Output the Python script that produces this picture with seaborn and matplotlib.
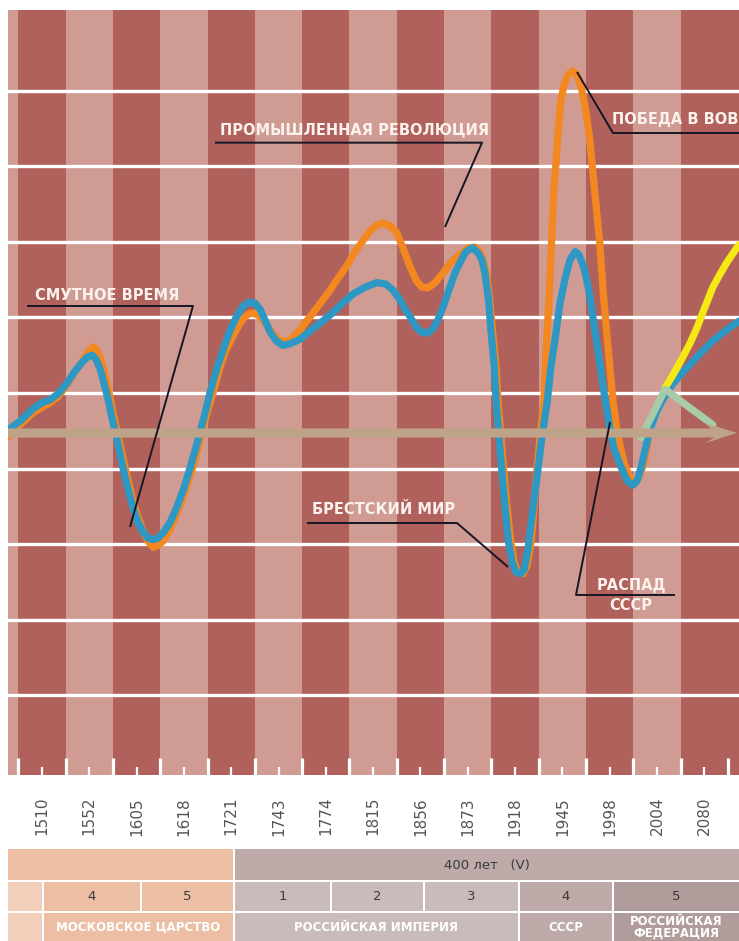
import numpy as np
import pandas as pd
import matplotlib
matplotlib.use("Agg")
import matplotlib.pyplot as plt
import seaborn as sns
from matplotlib.patches import Rectangle, FancyArrow

# ---------------- data ----------------
years = ["1510", "1552", "1605", "1618", "1721", "1743", "1774", "1815",
         "1856", "1873", "1918", "1945", "1998", "2004", "2080"]

blue_x = [-0.72, -0.46, -0.19, 0.00, 0.17, 0.34, 0.53, 0.70, 0.87, 0.97,
          1.06, 1.14, 1.23, 1.31, 1.40, 1.48, 1.59, 1.69, 1.80, 1.92,
          2.03, 2.14, 2.24, 2.35, 2.45, 2.56, 2.71, 2.85, 3.00, 3.13,
          3.26, 3.34, 3.45, 3.55, 3.70, 3.85, 3.97, 4.12, 4.25, 4.38,
          4.50, 4.61, 4.71, 4.82, 4.95, 5.09, 5.24, 5.45, 5.77, 6.09,
          6.34, 6.58, 6.83, 7.08, 7.27, 7.42, 7.57, 7.67, 7.78, 7.91,
          8.01, 8.14, 8.27, 8.37, 8.48, 8.60, 8.73, 8.84, 8.96, 9.11,
          9.22, 9.30, 9.37, 9.44, 9.49, 9.56, 9.60, 9.66, 9.72, 9.79,
          9.86, 9.94, 10.02, 10.11, 10.19, 10.27, 10.38, 10.48, 10.57, 10.68,
          10.76, 10.87, 10.95, 11.06, 11.16, 11.27, 11.35, 11.46, 11.56, 11.67,
          11.77, 11.88, 11.99, 12.09, 12.24, 12.37, 12.49, 12.58, 12.66, 12.75,
          12.85, 12.98, 13.13, 13.32, 13.51, 13.70, 13.91, 14.18, 14.46, 14.73]
blue_y = [-0.49, -0.37, -0.21, -0.13, -0.09, -0.01, 0.13, 0.29, 0.42, 0.48,
          0.50, 0.45, 0.32, 0.13, -0.09, -0.33, -0.62, -0.93, -1.22, -1.51,
          -1.71, -1.84, -1.92, -1.94, -1.92, -1.85, -1.71, -1.51, -1.26, -0.99,
          -0.71, -0.52, -0.26, 0.00, 0.33, 0.61, 0.82, 1.02, 1.15, 1.20,
          1.19, 1.11, 0.97, 0.81, 0.69, 0.63, 0.65, 0.71, 0.87, 1.03,
          1.18, 1.31, 1.40, 1.46, 1.44, 1.36, 1.23, 1.11, 1.01, 0.87,
          0.81, 0.79, 0.85, 0.97, 1.14, 1.36, 1.59, 1.73, 1.87, 1.92,
          1.85, 1.76, 1.56, 1.23, 0.82, 0.36, -0.11, -0.57, -1.03, -1.51,
          -1.97, -2.24, -2.37, -2.39, -2.34, -2.08, -1.51, -1.03, -0.57, -0.11,
          0.36, 0.82, 1.19, 1.52, 1.76, 1.87, 1.83, 1.65, 1.36, 0.90,
          0.48, 0.01, -0.42, -0.73, -0.98, -1.16, -1.22, -1.16, -0.99, -0.75,
          -0.49, -0.26, -0.08, 0.11, 0.25, 0.38, 0.52, 0.69, 0.83, 0.95]

orange_x = [-0.72, -0.46, -0.19, 0.00, 0.17, 0.34, 0.53, 0.70, 0.87, 0.97,
            1.08, 1.16, 1.25, 1.33, 1.42, 1.50, 1.61, 1.71, 1.82, 1.92,
            2.03, 2.14, 2.24, 2.35, 2.45, 2.56, 2.71, 2.85, 3.00, 3.17,
            3.28, 3.38, 3.49, 3.62, 3.76, 3.89, 4.04, 4.19, 4.33, 4.44,
            4.57, 4.67, 4.78, 4.88, 5.01, 5.14, 5.29, 5.45, 5.58, 5.73,
            5.90, 6.09, 6.26, 6.45, 6.62, 6.79, 6.93, 7.08, 7.21, 7.36,
            7.50, 7.63, 7.78, 7.91, 8.03, 8.16, 8.31, 8.48, 8.65, 8.84,
            9.01, 9.15, 9.26, 9.34, 9.41, 9.47, 9.53, 9.60, 9.64, 9.70,
            9.76, 9.83, 9.91, 9.98, 10.06, 10.17, 10.25, 10.34, 10.40, 10.46,
            10.53, 10.61, 10.66, 10.72, 10.77, 10.82, 10.87, 10.91, 10.96, 11.03,
            11.12, 11.22, 11.31, 11.41, 11.50, 11.58, 11.68, 11.79, 11.87, 11.98,
            12.07, 12.17, 12.31, 12.44, 12.54, 12.64, 12.73, 12.81]
orange_y = [-0.58, -0.42, -0.26, -0.19, -0.13, -0.05, 0.11, 0.28, 0.44, 0.54,
            0.61, 0.57, 0.44, 0.24, 0.00, -0.26, -0.56, -0.86, -1.15, -1.42,
            -1.64, -1.83, -1.96, -2.04, -2.02, -1.96, -1.81, -1.60, -1.35, -1.02,
            -0.78, -0.53, -0.26, 0.01, 0.33, 0.57, 0.75, 0.93, 1.03, 1.06,
            1.03, 0.97, 0.87, 0.79, 0.70, 0.66, 0.73, 0.83, 0.94, 1.06,
            1.20, 1.36, 1.52, 1.69, 1.87, 2.02, 2.14, 2.22, 2.25, 2.21,
            2.12, 1.92, 1.67, 1.49, 1.40, 1.39, 1.46, 1.59, 1.73, 1.84,
            1.92, 1.93, 1.87, 1.73, 1.52, 1.19, 0.79, 0.33, -0.11, -0.57,
            -1.03, -1.51, -1.97, -2.24, -2.37, -2.39, -2.29, -1.97, -1.51, -1.03,
            -0.57, -0.11, 0.60, 1.28, 1.98, 2.69, 3.08, 3.45, 3.84, 4.06,
            4.21, 4.26, 4.21, 4.01, 3.72, 3.35, 2.69, 1.98, 1.28, 0.50,
            -0.11, -0.57, -0.94, -1.14, -1.19, -1.08, -0.91, -0.65]

yellow_x = [13.17, 13.32, 13.49, 13.70, 13.85, 13.97, 14.08, 14.18, 14.33, 14.48, 14.61, 14.73]
yellow_y = [0.07, 0.22, 0.41, 0.66, 0.87, 1.07, 1.24, 1.40, 1.57, 1.73, 1.85, 1.96]

green_x = [12.66, 12.91, 13.17, 13.68, 14.18]
green_y = [-0.59, -0.28, 0.05, -0.19, -0.42]

events = ["ПРОМЫШЛЕННАЯ РЕВОЛЮЦИЯ", "ПОБЕДА В ВОВ", "СМУТНОЕ ВРЕМЯ",
          "БРЕСТСКИЙ МИР", "РАСПАД\nСССР"]

row1_labels = ["", "400 лет   (V)"]
row2_labels = ["", "4", "5", "1", "2", "3", "4", "5"]
row3_labels = ["", "МОСКОВСКОЕ ЦАРСТВО", "РОССИЙСКАЯ ИМПЕРИЯ", "СССР",
               "РОССИЙСКАЯ\nФЕДЕРАЦИЯ"]

# ---------------- style ----------------
sns.set_theme(style="white")
plt.rcParams["font.family"] = ["DejaVu Sans"]

DARK = "#b1615c"
LIGHT = "#d09b93"
BLUE = "#2d98c4"
ORANGE = "#f2881f"
YELLOW = "#f6e815"
GREEN = "#a8cba7"
ARROW = "#bfa388"
TXT = "#fbf2ee"
LINE = "#161625"

W, H = 739, 941
fig = plt.figure(figsize=(W / 100, H / 100), dpi=100)
fig.patch.set_facecolor("white")

ax = fig.add_axes([8.3 / W, 166 / H, (W - 8.3) / W, 765 / H])
ax.set_xlim(-0.711, 14.733)
ax.set_ylim(-5.053, 5.066)
for s in ax.spines.values():
    s.set_visible(False)

# stripes
n = len(years)
for i in range(-1, n):
    right = i + 0.5 if i < n - 1 else i + 1.5
    ax.axvspan(i - 0.5, right, color=DARK if i % 2 == 0 else LIGHT, lw=0, zorder=0)

# white horizontal lines
for k in range(-4, 5):
    ax.axhline(k, color="white", lw=2.4, zorder=1)

# curves
common = dict(ax=ax, estimator=None, sort=False, lw=5.2,
              solid_capstyle="round", solid_joinstyle="round")
sns.lineplot(x=orange_x, y=orange_y, color=ORANGE, zorder=2, **common)
sns.lineplot(x=blue_x, y=blue_y, color=BLUE, zorder=3, **common)
sns.lineplot(x=yellow_x, y=yellow_y, color=YELLOW, zorder=3, **common)
sns.lineplot(x=green_x, y=green_y, color=GREEN, zorder=4, **common)

# arrow
y0 = -0.529
ax.add_patch(FancyArrow(-0.75, y0, 14.69 + 0.75, 0, width=0.12, head_width=0.27,
                        head_length=0.68, length_includes_head=True, overhang=0.3,
                        color=ARROW, lw=0, zorder=5))

# ticks (ruler)
ax.set_xticks(range(n))
ax.set_xticklabels(years, rotation=90, fontsize=11, color="#555555")
ax.set_xticks(np.arange(-0.5, n, 1.0), minor=True)
ax.tick_params(axis="x", which="major", direction="in", length=5.8, width=1.6,
               color="white", pad=15.8, bottom=True)
ax.tick_params(axis="x", which="minor", direction="in", length=12.2, width=2.3,
               color="white", bottom=True)
ax.set_yticks([])
ax.set_xlabel("")
ax.set_ylabel("")

# annotations
ann_kw = dict(color=LINE, lw=1.4, zorder=6, solid_capstyle="butt")
txt_kw = dict(color=TXT, fontsize=10.5, fontweight="bold", zorder=7,
              ha="center", va="center")

ax.plot([3.657, 9.301, 8.519], [3.311, 3.311, 2.196], **ann_kw)
ax.text(6.606, 3.479, events[0], **txt_kw)

ax.plot([11.309, 12.07, 14.8], [4.246, 3.439, 3.439], **ann_kw)
ax.text(13.391, 3.624, events[1], **txt_kw)

ax.plot([-0.316, 3.192, 1.861], [1.151, 1.151, -1.772], **ann_kw)
ax.text(1.385, 1.296, events[2], **txt_kw)

ax.plot([5.602, 8.773, 9.851], [-1.720, -1.720, -2.302], **ann_kw)
ax.text(7.23, -1.541, events[3], **txt_kw)

ax.plot([12.007, 11.288, 13.38], [-0.384, -2.672, -2.672], **ann_kw)
ax.text(12.45, -2.68, events[4], linespacing=1.45, **txt_kw)

# ---------------- bottom table ----------------
tab = fig.add_axes([0, 0, 1, 92 / H])
tab.set_xlim(0, W)
tab.set_ylim(941, 849)
tab.axis("off")

PEACH = "#ecbfa5"
LPEACH = "#f2cfba"
LGRAY = "#c9bbba"
MAUVE = "#bdaaa9"
DMAUVE = "#b09c9b"

rows = [(849, 880), (882, 911), (913, 941)]
row1_geom = [(8, 233, PEACH), (235, 739, MAUVE)]
row2_geom = [(8, 42, LPEACH), (44, 140, PEACH), (142, 233, PEACH), (235, 330, LGRAY),
             (332, 423, LGRAY), (425, 518, LGRAY), (520, 612, MAUVE), (614, 739, DMAUVE)]
row3_geom = [(8, 42, LPEACH), (44, 233, PEACH), (235, 518, LGRAY), (520, 612, MAUVE),
             (614, 739, DMAUVE)]

for (ytop, ybot), geom, labels, style in [
        (rows[0], row1_geom, row1_labels, dict(color="#3a3a3a", fontsize=9.5)),
        (rows[1], row2_geom, row2_labels, dict(color="#3a3a3a", fontsize=9.5)),
        (rows[2], row3_geom, row3_labels, dict(color="white", fontsize=8.5,
                                               fontweight="bold", linespacing=0.9))]:
    for (x0, x1, c), lab in zip(geom, labels):
        tab.add_patch(Rectangle((x0, ytop), x1 - x0, ybot - ytop, color=c, lw=0))
        if lab:
            tab.text((x0 + x1) / 2, (ytop + ybot) / 2 + 0.5, lab, ha="center",
                     va="center", **style)

fig.savefig("out.png", dpi=100, facecolor="white")
